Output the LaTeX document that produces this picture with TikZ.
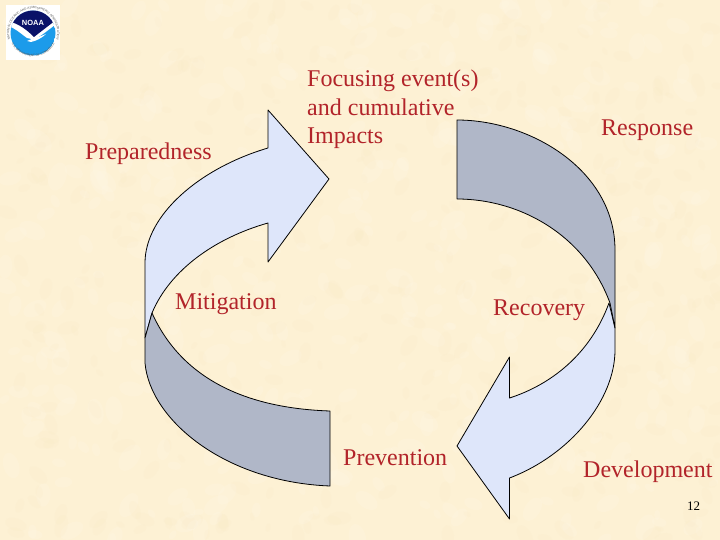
\documentclass[tikz,border=0pt]{standalone}
\usepackage{fontspec}
\setmainfont{Liberation Serif}
\newfontfamily\logofont{Liberation Sans}
\usetikzlibrary{decorations.text}
\definecolor{paper}{HTML}{FDF1D4}
\definecolor{paperlight}{HTML}{FFF8E8}
\definecolor{paperdark}{HTML}{FAE8C2}
\definecolor{paleblue}{HTML}{DEE6FA}
\definecolor{slategray}{HTML}{B0B7C8}
\definecolor{labelred}{HTML}{B2242A}
\definecolor{noaanavy}{HTML}{0A1268}
\definecolor{noaablue}{HTML}{1C9BEA}
\tikzset{
  panel/.style={draw=black,line width=0.8pt,line join=round},
  lightpanel/.style={panel,fill=paleblue},
  darkpanel/.style={panel,fill=slategray},
  lbl/.style={anchor=base west,inner sep=0pt,text=labelred,font=\fontsize{24}{28}\selectfont},
  ringtext/.style={decorate,decoration={text along path,text align=center,
     text={|\logofont\fontsize{3.1}{3.1}\selectfont\color{black!65}|#1}}}
}
\begin{document}
\begin{tikzpicture}[x=1pt,y=-1pt]
\useasboundingbox (0,0) rectangle (720,540);
\fill[paper] (0,0) rectangle (720,540);
% mottled paper texture
\begin{scope}
\clip (0,0) rectangle (720,540);
\pgfmathsetseed{12}
\foreach \i in {1,...,420}{
  \pgfmathsetmacro{\px}{720*rnd}
  \pgfmathsetmacro{\py}{540*rnd}
  \pgfmathsetmacro{\pr}{5+10*rnd}
  \pgfmathsetmacro{\pa}{180*rnd}
  \fill[paperlight,opacity=0.2,rotate around={\pa:(\px,\py)}] (\px,\py) ellipse [x radius=\pr,y radius=\pr*0.6];
  \pgfmathsetmacro{\qx}{720*rnd}
  \pgfmathsetmacro{\qy}{540*rnd}
  \pgfmathsetmacro{\qr}{4+8*rnd}
  \fill[paperdark,opacity=0.14,rotate around={\pa:(\qx,\qy)}] (\qx,\qy) ellipse [x radius=\qr,y radius=\qr*0.55];
}
\end{scope}

% NOAA logo
\fill[white] (6,5) rectangle (60,60);
\begin{scope}
\clip (33,33) circle (22.5);
\fill[noaablue] (33,33) circle (22.5);
\fill[white] (8,10) -- (60,10) -- (60,21) .. controls (52,27) and (44,34) .. (36,38.5)
   .. controls (33,39.5) and (30,39) .. (27,38) .. controls (20,33) and (15,28) .. (8,26) -- cycle;
\fill[noaanavy] (8,8) -- (60,8) -- (60,17) .. controls (52,23) and (43,30) .. (34,37)
   .. controls (28,31) and (20,24) .. (8,21) -- cycle;
\fill[white] (27,41) .. controls (33,38) and (40,37) .. (46,34) .. controls (42,38) and (36,41) .. (31,42) -- cycle;
\end{scope}
\node[inner sep=0pt,text=white,font=\logofont\bfseries\fontsize{7.5}{7.5}\selectfont] (noaa) at (33,22.5) {NOAA};
\path[ringtext={NATIONAL OCEANIC AND ATMOSPHERIC ADMINISTRATION}]
  (11.5,43) arc[start angle=155,end angle=385,radius=24] ;
\path[ringtext={U.S. DEPARTMENT OF COMMERCE}]
  (9.5,38) arc[start angle=167,end angle=13,radius=24.3];

% blue arrow, upper left
\draw[lightpanel] (145,338) -- (145,263)
  .. controls (145,215) and (200,168) .. (268,148)
  -- (268,110) -- (329,179) -- (268,262) -- (268,223)
  .. controls (215,238) and (170,270) .. (152,313) -- cycle;
% blue arrow, lower right
\draw[lightpanel] (609,303) -- (615,328) -- (615,350)
  .. controls (615,400) and (570,455) .. (509.5,478)
  -- (509.5,519) -- (457,446) -- (509.5,357) -- (509.5,398)
  .. controls (550,385) and (590,355) .. (609,303) -- cycle;
% grey band, upper right
\draw[darkpanel] (457,120)
  .. controls (530,120) and (615,170) .. (615,250)
  -- (615,328) -- (610,303)
  .. controls (585,235) and (520,199) .. (457,199) -- cycle;
% grey band, lower left
\draw[darkpanel] (330,411)
  .. controls (240,408) and (180,375) .. (152,313)
  -- (145,338) -- (145,363)
  .. controls (150,420) and (225,482) .. (330,486) -- cycle;

% labels
\node[lbl] (prep) at (85,160) {Preparedness};
\node[lbl] (foc1) at (307,87) {Focusing event(s)};
\node[lbl] (foc2) at (307,116) {and cumulative};
\node[lbl] (foc3) at (307,144) {Impacts};
\node[lbl] (resp) at (601,135.5) {Response};
\node[lbl] (miti) at (175,309) {Mitigation};
\node[lbl] (reco) at (493,315) {Recovery};
\node[lbl] (prev) at (343,465) {Prevention};
\node[lbl] (deve) at (583,477) {Development};
\node[anchor=base west,inner sep=0pt,font=\fontsize{13}{15}\selectfont] (page) at (687,510) {12};
\end{tikzpicture}
\end{document}
